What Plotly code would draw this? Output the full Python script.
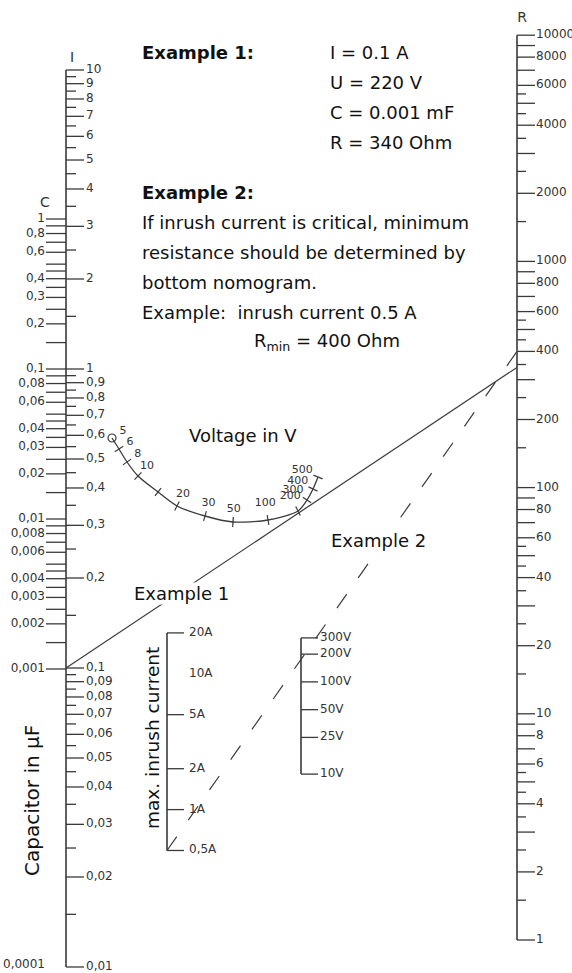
import math
import plotly.graph_objects as go

# ---------------- data ----------------
I_major = [10, 9, 8, 7, 6, 5, 4, 3, 2, 1, 0.9, 0.8, 0.7, 0.6, 0.5, 0.4, 0.3, 0.2,
           0.1, 0.09, 0.08, 0.07, 0.06, 0.05, 0.04, 0.03, 0.02, 0.01]
I_major_text = ["10", "9", "8", "7", "6", "5", "4", "3", "2", "1", "0,9", "0,8", "0,7",
                "0,6", "0,5", "0,4", "0,3", "0,2", "0,1", "0,09", "0,08", "0,07", "0,06",
                "0,05", "0,04", "0,03", "0,02", "0,01"]
I_minor = [9.5, 8.5, 7.5, 6.5, 5.5, 4.5, 3.5, 2.5, 1.5,
           0.95, 0.85, 0.75, 0.65, 0.55, 0.45, 0.35, 0.25, 0.15,
           0.095, 0.085, 0.075, 0.065, 0.055, 0.045, 0.035, 0.025, 0.015]

C_ticks = [1, 0.9, 0.8, 0.7, 0.6, 0.5, 0.45, 0.4, 0.35, 0.3, 0.25, 0.2, 0.15,
           0.1, 0.09, 0.08, 0.07, 0.06, 0.05, 0.045, 0.04, 0.035, 0.03, 0.025, 0.02, 0.015,
           0.01, 0.009, 0.008, 0.007, 0.006, 0.005, 0.0045, 0.004, 0.0035, 0.003, 0.0025,
           0.002, 0.0015, 0.001]
C_labels = [1, 0.8, 0.6, 0.4, 0.3, 0.2, 0.1, 0.08, 0.06, 0.04, 0.03, 0.02, 0.01,
            0.008, 0.006, 0.004, 0.003, 0.002, 0.001]
C_labels_text = ["1", "0,8", "0,6", "0,4", "0,3", "0,2", "0,1", "0,08", "0,06", "0,04",
                 "0,03", "0,02", "0,01", "0,008", "0,006", "0,004", "0,003", "0,002", "0,001"]

R_major = [1, 2, 3, 4, 5, 6, 7, 8, 9, 10, 20, 30, 40, 50, 60, 70, 80, 90, 100,
           200, 300, 400, 500, 600, 700, 800, 900, 1000, 2000, 3000, 4000, 5000,
           6000, 7000, 8000, 9000, 10000]
R_minor = [1.5, 2.5, 3.5, 4.5, 5.5, 15, 25, 35, 45, 55, 150, 250, 350, 450, 550,
           1500, 2500, 3500, 4500, 5500]
R_labels = [10000, 8000, 6000, 4000, 2000, 1000, 800, 600, 400, 200, 100, 80, 60, 40,
            20, 10, 8, 6, 4, 2, 1]

# voltage curve (points of the curved scale)
volt_vals = [5, 6, 8, 10, 15, 20, 30, 50, 100, 200, 300, 400, 500]
volt_x = [112, 119, 127, 138, 158, 177, 205, 233, 268, 298, 307, 313, 318]
volt_y = [438, 449, 462, 476, 492, 506, 516, 522, 520, 511, 500, 489, 477]
volt_label_vals = [5, 6, 8, 10, 20, 30, 50, 100, 200, 300, 400, 500]

inrush_ticks = [20, 5, 2, 1, 0.5]
inrush_labels = [20, 10, 5, 2, 1, 0.5]
inrush_text = ["20A", "10A", "5A", "2A", "1A", "0,5A"]

vscale_vals = [300, 200, 100, 50, 25, 10]
vscale_text = ["300V", "200V", "100V", "50V", "25V", "10V"]

ex1_I, ex1_R = 0.1, 340
ex2_Imax, ex2_R = 0.5, 400

# ---------------- scale calibration (layout) ----------------
X_MAIN, X_R, X_A, X_V = 66, 517, 167, 301
def y_I(v): return 369 - 299 * math.log10(v)
def y_C(v): return 219 - 150 * math.log10(v)
def y_R(v): return 940 - 226.2 * math.log10(v)
def y_A(v): return 809.6 - 135.8 * math.log10(v)
def y_V(v): return 866.3 - 92.2 * math.log10(v)

LINE = "#3a3a3a"
TICKFONT = dict(family="DejaVu Sans", size=12, color="#333333")
CURVEFONT = dict(family="DejaVu Sans", size=11, color="#333333")
TXT = dict(family="DejaVu Sans", size=18, color="#111111")

fig = go.Figure()

def segs(pairs):
    xs, ys = [], []
    for (x0, y0, x1, y1) in pairs:
        xs += [x0, x1, None]
        ys += [y0, y1, None]
    return xs, ys

def add_lines(pairs, width=1.3, dash=None, color=LINE):
    xs, ys = segs(pairs)
    fig.add_trace(go.Scatter(x=xs, y=ys, mode="lines", hoverinfo="skip",
                             line=dict(color=color, width=width, dash=dash)))

def add_text(xs, ys, texts, pos, font=TICKFONT):
    fig.add_trace(go.Scatter(x=xs, y=ys, text=texts, mode="text", textposition=pos,
                             hoverinfo="skip", textfont=font, cliponaxis=False))

# main axis (I on the right side, C on the left side)
add_lines([(X_MAIN, y_I(10), X_MAIN, y_I(0.01))], width=1.6)
add_lines([(X_MAIN, y_I(v), X_MAIN + 18, y_I(v)) for v in I_major])
add_lines([(X_MAIN, y_I(v), X_MAIN + 10, y_I(v)) for v in I_minor])
add_text([X_MAIN + 20] * len(I_major), [y_I(v) for v in I_major], I_major_text, "middle right")
add_lines([(X_MAIN - 20, y_C(v), X_MAIN, y_C(v)) for v in C_ticks])
add_text([X_MAIN - 21] * len(C_labels), [y_C(v) for v in C_labels], C_labels_text, "middle left")
add_text([X_MAIN - 21], [y_I(0.01) - 2], ["0,0001"], "middle left")
add_text([X_MAIN + 6], [y_I(10) - 12], ["I"], "middle center", dict(family="DejaVu Sans", size=14, color="#333"))
add_text([X_MAIN - 21], [y_C(1) - 16], ["C"], "middle center", dict(family="DejaVu Sans", size=14, color="#333"))

# R axis
add_lines([(X_R, y_R(10000), X_R, y_R(1))], width=1.6)
add_lines([(X_R, y_R(v), X_R + 18, y_R(v)) for v in R_major])
add_lines([(X_R, y_R(v), X_R + 9, y_R(v)) for v in R_minor])
add_text([X_R + 19] * len(R_labels), [y_R(v) for v in R_labels], [str(v) for v in R_labels], "middle right")
add_text([X_R + 5], [y_R(10000) - 17], ["R"], "middle center", dict(family="DejaVu Sans", size=14, color="#333"))

# voltage curve
fig.add_trace(go.Scatter(x=volt_x, y=volt_y, mode="lines", hoverinfo="skip",
                         line=dict(color=LINE, width=1.3, shape="spline", smoothing=0.8)))
tick_pairs, lab_x, lab_y, lab_t = [], [], [], []
n = len(volt_x)
for i in range(n):
    a = max(i - 1, 0); b = min(i + 1, n - 1)
    tx, ty = volt_x[b] - volt_x[a], volt_y[b] - volt_y[a]
    L = math.hypot(tx, ty); tx, ty = tx / L, ty / L
    nx, ny = ty, -tx
    if i > 0:
        tick_pairs.append((volt_x[i] - 5 * nx, volt_y[i] - 5 * ny, volt_x[i] + 5 * nx, volt_y[i] + 5 * ny))
    if volt_vals[i] in volt_label_vals:
        d = 13 if nx >= 0 else 17
        lab_x.append(volt_x[i] + d * nx)
        lab_y.append(volt_y[i] + d * ny)
        lab_t.append(str(volt_vals[i]))
add_lines(tick_pairs, width=1.2)
fig.add_trace(go.Scatter(x=[volt_x[0]], y=[volt_y[0]], mode="markers", hoverinfo="skip",
                         marker=dict(symbol="circle-open", size=8, color=LINE, line=dict(width=1.2))))
add_text(lab_x, lab_y, lab_t, "middle center", CURVEFONT)

# inrush current scale
add_lines([(X_A, y_A(20), X_A, y_A(0.5))], width=1.6)
add_lines([(X_A, y_A(v), X_A + 17, y_A(v)) for v in inrush_ticks])
add_text([X_A + 22] * len(inrush_labels), [y_A(v) for v in inrush_labels], inrush_text, "middle right")

# small voltage scale
add_lines([(X_V, y_V(300), X_V, y_V(10))], width=1.6)
add_lines([(X_V, y_V(v), X_V + 17, y_V(v)) for v in vscale_vals])
add_text([X_V + 19] * len(vscale_vals), [y_V(v) for v in vscale_vals], vscale_text, "middle right")

# example lines
add_lines([(X_MAIN, y_I(ex1_I), X_R, y_R(ex1_R))], width=1.2)
add_lines([(X_A, y_A(ex2_Imax), X_R, y_R(ex2_R))], width=1.2, dash="17px,20px")

# ---------------- texts ----------------
ann = []
def A(x, y, t, bold=False, xanchor="left", angle=0, bg=None, size=18):
    f = dict(TXT); f["size"] = size
    if bold:
        t = "<b>" + t + "</b>"
    d = dict(x=x, y=y, xref="x", yref="y", text=t, showarrow=False, xanchor=xanchor,
             yanchor="middle", font=f, textangle=angle)
    if bg:
        d["bgcolor"] = bg
        d["borderpad"] = 0
    ann.append(d)

A(140, 52, "Example 1:", bold=True)
A(328, 52, "I = 0.1 A")
A(328, 82, "U = 220 V")
A(328, 112, "C = 0.001 mF")
A(328, 142, "R = 340 Ohm")
A(140, 192, "Example 2:", bold=True)
A(140, 222, "If inrush current is critical, minimum")
A(140, 252, "resistance should be determined by")
A(140, 282, "bottom nomogram.")
A(140, 312, "Example:  inrush current 0.5 A")
A(252, 342, "R<sub>min</sub> = 400 Ohm")
A(243, 435, "Voltage in V", xanchor="center")
A(133, 593, "Example 1", bg="white")
A(330, 540, "Example 2", bg="white")
A(32, 801, "Capacitor in μF", xanchor="center", angle=-90, size=20)
A(152, 738, "max. inrush current", xanchor="center", angle=-90, size=18.5)

fig.update_layout(
    width=572, height=973, margin=dict(l=0, r=0, t=0, b=0),
    paper_bgcolor="white", plot_bgcolor="white", showlegend=False,
    xaxis=dict(range=[0, 572], visible=False, fixedrange=True),
    yaxis=dict(range=[973, 0], visible=False, fixedrange=True),
    annotations=ann,
)
fig.write_html("out.html", config={"displayModeBar": False, "staticPlot": True},
               post_script="document.body.style.margin='0';document.body.style.overflow='hidden';")
